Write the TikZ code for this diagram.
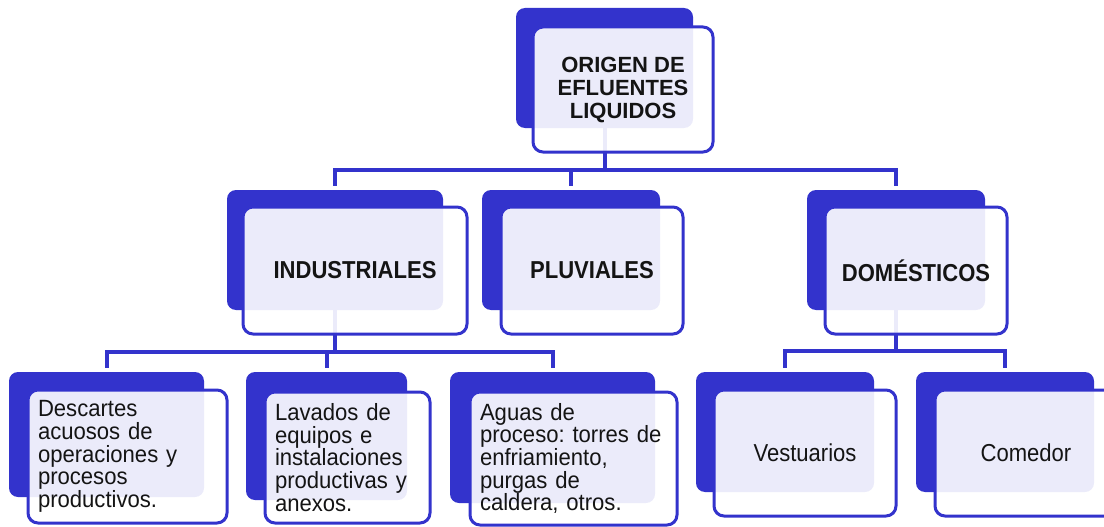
\documentclass[tikz,border=0pt]{standalone}
\usepackage{fontspec}
\setmainfont{Liberation Sans}
\newfontfamily\estirada[FakeStretch=0.9]{Liberation Sans}
\newfontfamily\hojafont[FakeStretch=0.94]{Liberation Sans}
\frenchspacing
\definecolor{azul}{RGB}{51,51,204}
\definecolor{tinta}{RGB}{20,20,20}
\tikzset{
  fondo/.style={fill=azul, rounded corners=9pt, inner sep=0pt},
  frente/.style={draw=azul, line width=3pt, fill=white, fill opacity=0.9, text opacity=1,
    rounded corners=10pt, inner sep=0pt, text=tinta, font=\estirada\fontsize{24.5}{24.5}\selectfont},
  titulo/.style={frente, font=\fontsize{22}{23}\selectfont\bfseries, align=center},
  rama/.style={frente, font=\estirada\fontsize{24.5}{24.5}\selectfont\bfseries},
  hoja/.style={frente, align=left, inner xsep=10pt, text width=#1, font=\hojafont\fontsize{23.5}{22.7}\selectfont},
  conector/.style={draw=azul, line width=4pt},
  bajada/.style={conector, shorten >=4pt}
}
\begin{document}
\begin{tikzpicture}[x=1pt,y=-1pt]
  \useasboundingbox (0,0) rectangle (1104,527);
  \clip (0,0) rectangle (1104,527);

  % Cajas de fondo
  \node[fondo, minimum width=177pt, minimum height=120pt] (orig-b) at (604.5,68) {};
  \node[fondo, minimum width=216pt, minimum height=120pt] (ind-b) at (335,250) {};
  \node[fondo, minimum width=178pt, minimum height=120pt] (plu-b) at (571,250) {};
  \node[fondo, minimum width=178pt, minimum height=120pt] (dom-b) at (896,250) {};
  \node[fondo, minimum width=195pt, minimum height=125pt] (des-b) at (106.5,434.5) {};
  \node[fondo, minimum width=161pt, minimum height=128pt] (lav-b) at (326.5,436) {};
  \node[fondo, minimum width=205pt, minimum height=131pt] (agu-b) at (552.5,437.5) {};
  \node[fondo, minimum width=178pt, minimum height=120pt] (ves-b) at (785,432) {};
  \node[fondo, minimum width=178pt, minimum height=120pt] (com-b) at (1005,432) {};

  % Conectores
  \coordinate (bus1) at ([yshift=-42pt]orig-b.south);
  \coordinate (bus2) at ([yshift=-41.5pt]ind-b.south);
  \coordinate (bus3) at ([yshift=-41pt]dom-b.south);
  \draw[conector] (orig-b.south) -- (bus1);
  \draw[bajada] (bus1) -| (ind-b.north);
  \draw[bajada] (bus1) -| (plu-b.north);
  \draw[bajada] (bus1) -| (dom-b.north);
  \draw[conector] (ind-b.south) -- (bus2);
  \draw[bajada] (bus2) -| (des-b.north);
  \draw[bajada] (bus2) -| (lav-b.north);
  \draw[bajada] (bus2) -| (agu-b.north);
  \draw[conector] (dom-b.south) -- (bus3);
  \draw[bajada] (bus3) -| (ves-b.north);
  \draw[bajada] (bus3) -| (com-b.north);

  % Cajas de frente con texto
  \node[titulo, minimum width=180pt, minimum height=125pt] (orig) at (623,89.5)
    {ORIGEN DE\\EFLUENTES\\LIQUIDOS};
  \node[rama, minimum width=224pt, minimum height=127pt] (ind) at (355,270.5) {INDUSTRIALES};
  \node[rama, minimum width=182pt, minimum height=127pt] (plu) at (592,270.5) {PLUVIALES};
  \node[rama, minimum width=182pt, minimum height=127pt] (dom) at (916,270.5) {DOMÉSTICOS};
  \node[hoja=179pt, minimum height=133pt] (des) at (127.5,456.5)
    {Descartes\\acuosos de\\operaciones y\\procesos\\productivos.};
  \node[hoja=145pt, minimum height=131pt] (lav) at (347.5,457.5)
    {Lavados de\\equipos e\\instalaciones\\productivas y\\anexos.};
  \node[hoja=187pt, minimum height=133pt] (agu) at (573.5,458.5)
    {Aguas de\\proceso: torres de\\enfriamiento,\\purgas de\\caldera, otros.};
  \node[frente, minimum width=182pt, minimum height=126pt] (ves) at (805,453) {Vestuarios};
  \node[frente, minimum width=182pt, minimum height=126pt] (com) at (1026,453) {Comedor};
\end{tikzpicture}
\end{document}
